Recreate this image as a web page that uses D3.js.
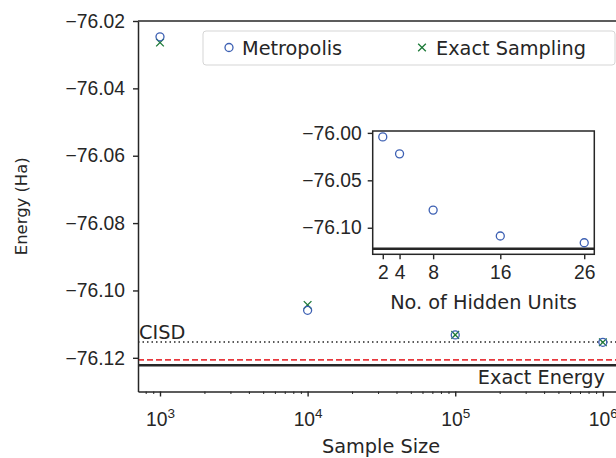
<!DOCTYPE html>
<html>
<head>
<meta charset="utf-8">
<script src="https://cdn.jsdelivr.net/npm/d3@7"></script>
<style>
  body { margin: 0; background: #fff; }
  svg { display: block; font-family: "DejaVu Sans", sans-serif; }
  .axis text { fill: #262626; }
  .axis path, .axis line { stroke: #262626; }
</style>
</head>
<body>
<div id="root"></div>
<script>
// main panel data
const sampleSizes = [1e3, 1e4, 1e5, 1e6];
const metropolisE = [-76.0247, -76.1059, -76.1132, -76.1154];
const exactSamplingE = [-76.0264, -76.1043, -76.1132, -76.1154];
const yTicks = [-76.12, -76.10, -76.08, -76.06, -76.04, -76.02];

// reference energies
const cisdEnergy = -76.1153;
const dashedEnergy = -76.1206;
const exactEnergy = -76.1222;

// inset data
const hiddenUnits = [2, 4, 8, 16, 26];
const hiddenE = [-76.0042, -76.0221, -76.0814, -76.1087, -76.1158];
const insetYTicks = [-76.10, -76.05, -76.00];

const width = 616, height = 458;
const ink = "#262626";
const blue = "#3d60b3", green = "#1d7a38", red = "#e8383d";
const fs = 19.3;

const svg = d3.select("#root").append("svg")
  .attr("width", width).attr("height", height);

const fmt = d => d3.format(".2f")(d).replace("-", "\u2212");

// ---- main axes
const m = { left: 138, top: 21, bottom: 391.5, right: 625 };
const x = d3.scaleLog().domain([Math.pow(10, 2.851), Math.pow(10, 6.15)]).range([m.left, m.right]);
const y = d3.scaleLinear().domain([-76.13, -76.02]).range([m.bottom, m.top]);

// reference lines
svg.append("line").attr("x1", m.left).attr("x2", m.right)
  .attr("y1", y(cisdEnergy)).attr("y2", y(cisdEnergy))
  .attr("stroke", ink).attr("stroke-width", 1.6).attr("stroke-dasharray", "1.5,3");
svg.append("line").attr("x1", m.left).attr("x2", m.right)
  .attr("y1", y(dashedEnergy)).attr("y2", y(dashedEnergy))
  .attr("stroke", red).attr("stroke-width", 1.6).attr("stroke-dasharray", "6,3");
svg.append("line").attr("x1", m.left).attr("x2", m.right)
  .attr("y1", y(exactEnergy)).attr("y2", y(exactEnergy))
  .attr("stroke", ink).attr("stroke-width", 2.6);

svg.append("text").attr("x", m.left + 1).attr("y", y(cisdEnergy) - 3)
  .attr("font-size", fs).attr("fill", ink).text("CISD");
svg.append("text").attr("x", 605).attr("y", y(exactEnergy) + 19)
  .attr("font-size", fs).attr("fill", ink).attr("text-anchor", "end").text("Exact Energy");

// markers
const xPath = d3.symbol().type(d3.symbolX).size(40);
svg.append("g").selectAll("path").data(sampleSizes).join("path")
  .attr("d", xPath)
  .attr("transform", (d, i) => `translate(${x(d)},${y(exactSamplingE[i])})`)
  .attr("fill", "none").attr("stroke", green).attr("stroke-width", 1.3);
svg.append("g").selectAll("circle").data(sampleSizes).join("circle")
  .attr("cx", d => x(d)).attr("cy", (d, i) => y(metropolisE[i])).attr("r", 4)
  .attr("fill", "none").attr("stroke", blue).attr("stroke-width", 1.3);

// axes
const yAxis = svg.append("g").attr("class", "axis")
  .attr("transform", `translate(${m.left},0)`)
  .call(d3.axisLeft(y).tickValues(yTicks).tickFormat(fmt).tickSize(5).tickPadding(8).tickSizeOuter(0));
yAxis.selectAll("text").attr("font-size", fs);
yAxis.select(".domain").attr("stroke-width", 1.5);
yAxis.selectAll(".tick line").attr("stroke-width", 1.4);

const majors = sampleSizes;
const minors = [];
for (let e = 2; e <= 6; e++) for (let k = 2; k <= 9; k++) {
  const v = k * Math.pow(10, e);
  if (v > x.domain()[0] && v < x.domain()[1]) minors.push(v);
}
const xAxis = svg.append("g").attr("class", "axis")
  .attr("transform", `translate(0,${m.bottom})`)
  .call(d3.axisBottom(x).tickValues(majors).tickFormat("").tickSize(5).tickSizeOuter(0));
xAxis.select(".domain").attr("stroke-width", 1.5);
xAxis.selectAll(".tick line").attr("stroke-width", 1.4);
const xMinor = svg.append("g").attr("class", "axis")
  .attr("transform", `translate(0,${m.bottom})`)
  .call(d3.axisBottom(x).tickValues(minors).tickFormat("").tickSize(2.5).tickSizeOuter(0));
xMinor.select(".domain").remove();
xMinor.selectAll(".tick line").attr("stroke-width", 1);

// log tick labels 10^n
xAxis.selectAll(".tick").append("text")
  .attr("y", 34).attr("fill", ink).attr("text-anchor", "middle").attr("font-size", fs)
  .each(function (d) {
    const t = d3.select(this);
    t.append("tspan").text("10");
    t.append("tspan").attr("font-size", fs * 0.7).attr("dy", -8).text(Math.round(Math.log10(d)));
  });

// top spine
svg.append("line").attr("x1", m.left).attr("x2", m.right)
  .attr("y1", m.top).attr("y2", m.top).attr("stroke", ink).attr("stroke-width", 1.5);

// axis labels
svg.append("text").attr("x", 381).attr("y", 453).attr("text-anchor", "middle")
  .attr("font-size", fs).attr("fill", ink).text("Sample Size");
svg.append("text").attr("transform", `translate(27,${(m.top + m.bottom) / 2}) rotate(-90)`)
  .attr("text-anchor", "middle").attr("font-size", fs * 0.85).attr("fill", ink).text("Energy (Ha)");

// ---- legend
const lg = svg.append("g");
lg.append("rect").attr("x", 203).attr("y", 31).attr("width", 412).attr("height", 34).attr("rx", 3)
  .attr("fill", "#fff").attr("fill-opacity", 0.85).attr("stroke", "#d5d5d5").attr("stroke-width", 1);
lg.append("circle").attr("cx", 229).attr("cy", 47.5).attr("r", 4)
  .attr("fill", "none").attr("stroke", blue).attr("stroke-width", 1.3);
lg.append("text").attr("x", 242).attr("y", 54.5).attr("font-size", fs).attr("fill", ink).text("Metropolis");
lg.append("path").attr("d", xPath).attr("transform", "translate(422,47.5)")
  .attr("fill", "none").attr("stroke", green).attr("stroke-width", 1.3);
lg.append("text").attr("x", 436).attr("y", 54.5).attr("font-size", fs).attr("fill", ink).text("Exact Sampling");

// ---- inset
const n = { left: 372.7, top: 131, right: 594.3, bottom: 254.3 };
const ix = d3.scaleLinear().domain([0.8, 27.2]).range([n.left, n.right]);
const iy = d3.scaleLinear().domain([-76.128, -75.998]).range([n.bottom, n.top]);

const inset = svg.append("g");
inset.append("rect").attr("x", n.left).attr("y", n.top)
  .attr("width", n.right - n.left).attr("height", n.bottom - n.top)
  .attr("fill", "#fff").attr("stroke", ink).attr("stroke-width", 1.5);
inset.append("line").attr("x1", n.left).attr("x2", n.right)
  .attr("y1", iy(exactEnergy)).attr("y2", iy(exactEnergy))
  .attr("stroke", ink).attr("stroke-width", 2.6);
inset.append("g").selectAll("circle").data(hiddenUnits).join("circle")
  .attr("cx", d => ix(d)).attr("cy", (d, i) => iy(hiddenE[i])).attr("r", 4)
  .attr("fill", "none").attr("stroke", blue).attr("stroke-width", 1.3);

const iyAxis = inset.append("g").attr("class", "axis")
  .attr("transform", `translate(${n.left},0)`)
  .call(d3.axisLeft(iy).tickValues(insetYTicks).tickFormat(fmt).tickSize(5).tickPadding(6).tickSizeOuter(0));
iyAxis.selectAll("text").attr("font-size", fs);
iyAxis.select(".domain").remove();
iyAxis.selectAll(".tick line").attr("stroke-width", 1.4);

const ixAxis = inset.append("g").attr("class", "axis")
  .attr("transform", `translate(0,${n.bottom})`)
  .call(d3.axisBottom(ix).tickValues(hiddenUnits).tickFormat(d3.format("d")).tickSize(5).tickPadding(6).tickSizeOuter(0));
ixAxis.selectAll("text").attr("font-size", fs);
ixAxis.select(".domain").remove();
ixAxis.selectAll(".tick line").attr("stroke-width", 1.4);

inset.append("text").attr("x", (n.left + n.right) / 2).attr("y", 309).attr("text-anchor", "middle")
  .attr("font-size", fs).attr("fill", ink).text("No. of Hidden Units");
</script>
</body>
</html>
